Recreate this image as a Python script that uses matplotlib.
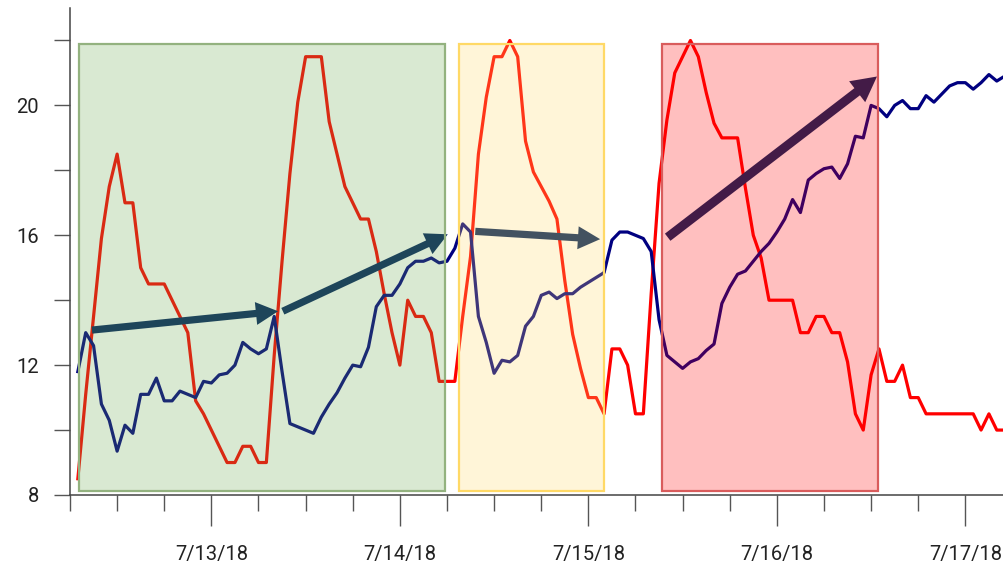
import matplotlib
matplotlib.use("Agg")
import matplotlib.pyplot as plt
import matplotlib.dates as mdates
from matplotlib.patches import Rectangle
from matplotlib.ticker import MultipleLocator, FuncFormatter
import pandas as pd

plt.rcParams["font.family"] = ["Roboto", "DejaVu Sans"]

# hourly readings, 7/12/18 07:00 onwards
start = "2018-07-12 07:00"
red_vals = [
    8.5, 11.1, 13.5, 15.9, 17.5, 18.5, 17.0, 17.0, 15.0, 14.5,
    14.5, 14.5, 14.0, 13.5, 13.0, 10.9, 10.5, 10.0, 9.5, 9.0,
    9.0, 9.5, 9.5, 9.0, 9.0, 12.3, 15.2, 17.9, 20.1, 21.5,
    21.5, 21.5, 19.5, 18.5, 17.5, 17.0, 16.5, 16.5, 15.5, 14.2,
    13.0, 12.0, 14.0, 13.5, 13.5, 13.0, 11.5, 11.5, 11.5, 13.5,
    15.35, 18.5, 20.25, 21.5, 21.5, 22.0, 21.5, 18.9, 17.95, 17.5,
    17.05, 16.5, 14.6, 12.95, 11.9, 11.0, 11.0, 10.5, 12.5, 12.5,
    12.0, 10.5, 10.5, 14.2, 17.6, 19.55, 21.0, 21.5, 22.0, 21.5,
    20.4, 19.45, 19.0, 19.0, 19.0, 17.45, 16.0, 15.3, 14.0, 14.0,
    14.0, 14.0, 13.0, 13.0, 13.5, 13.5, 13.0, 13.0, 12.1, 10.5,
    10.0, 11.7, 12.5, 11.5, 11.5, 12.0, 11.0, 11.0, 10.5, 10.5,
    10.5, 10.5, 10.5, 10.5, 10.5, 10.0, 10.5, 10.0, 10.0,
]
navy_vals = [
    11.8, 13.0, 12.6, 10.8, 10.3, 9.35, 10.15, 9.9, 11.1, 11.1,
    11.6, 10.9, 10.9, 11.2, 11.1, 11.0, 11.5, 11.45, 11.7, 11.75,
    12.0, 12.7, 12.5, 12.35, 12.5, 13.5, 11.8, 10.2, 10.1, 10.0,
    9.9, 10.4, 10.8, 11.15, 11.6, 12.0, 11.95, 12.55, 13.8, 14.15,
    14.15, 14.5, 15.0, 15.2, 15.2, 15.3, 15.15, 15.2, 15.6, 16.35,
    16.1, 13.5, 12.7, 11.75, 12.15, 12.1, 12.3, 13.2, 13.5, 14.15,
    14.25, 14.05, 14.2, 14.2, 14.4, 14.55, 14.7, 14.85, 15.85, 16.1,
    16.1, 16.0, 15.9, 15.5, 13.4, 12.3, 12.1, 11.9, 12.1, 12.2,
    12.45, 12.65, 13.9, 14.4, 14.8, 14.9, 15.2, 15.5, 15.75, 16.1,
    16.5, 17.1, 16.7, 17.7, 17.9, 18.05, 18.1, 17.75, 18.2, 19.05,
    19.0, 20.0, 19.9, 19.65, 20.0, 20.15, 19.9, 19.9, 20.3, 20.1,
    20.35, 20.6, 20.7, 20.7, 20.5, 20.7, 20.95, 20.75, 20.9,
]
times = pd.date_range(start, periods=len(red_vals), freq="h")

# highlighted periods: (from, to, colour) in hours after 7/12 06:00
t0 = pd.Timestamp("2018-07-12 06:00")
boxes = [(1.15, 47.75, "#6aa84f", "#93b27f"),
         (49.5, 68.0, "#ffd966", "#ffd966"),
         (75.4, 102.9, "#ff0000", "#d95c5c")]
box_low, box_high = 8.12, 21.9

# trend arrows: (hour, value) -> (hour, value)
arrows = [((2.8, 13.08), (26.5, 13.66)),
          ((27.1, 13.66), (48.1, 16.03)),
          ((51.6, 16.12), (67.5, 15.88)),
          ((76.1, 15.94), (102.75, 20.89))]


def at(h):
    return mdates.date2num(t0 + pd.Timedelta(hours=h))


fig = plt.figure(figsize=(10.04, 5.66), dpi=100)
ax = fig.add_axes([70 / 1004, 71 / 566, 934 / 1004, 487 / 566])

ax.plot(times, red_vals, color="#ff0000", lw=2.3, zorder=2)
ax.plot(times, navy_vals, color="#000080", lw=2.3, zorder=2)

for i, ((h1, v1), (h2, v2)) in enumerate(arrows):
    if i == 3:
        style = "simple,tail_width=6.5,head_width=19,head_length=18"
    else:
        style = "simple,tail_width=5.2,head_width=16.5,head_length=16"
    ax.annotate("", xy=(at(h2), v2), xytext=(at(h1), v1),
                arrowprops=dict(arrowstyle=style, lw=0, color="#05255f",
                                shrinkA=0, shrinkB=0, mutation_scale=1),
                zorder=2.5)

for h1, h2, fc, ec in boxes:
    x1, x2 = at(h1), at(h2)
    ax.add_patch(Rectangle((x1, box_low), x2 - x1, box_high - box_low,
                           facecolor=fc, alpha=0.25, edgecolor="none", zorder=3))
    ax.add_patch(Rectangle((x1, box_low), x2 - x1, box_high - box_low,
                           facecolor="none", edgecolor=ec, lw=1.6, zorder=4))

ax.set_xlim(at(0), at(934 / 7.854))
ax.set_ylim(8, 23)

ax.xaxis.set_major_locator(mdates.DayLocator())
ax.xaxis.set_minor_locator(mdates.HourLocator(byhour=[0, 6, 12, 18]))
ax.xaxis.set_major_formatter(FuncFormatter(
    lambda x, pos: (lambda d: f"{d.month}/{d.day}/{d:%y}")(mdates.num2date(x))))
ax.yaxis.set_major_locator(MultipleLocator(4))
ax.yaxis.set_minor_locator(MultipleLocator(2))

for s in ("top", "right"):
    ax.spines[s].set_visible(False)
for s in ("left", "bottom"):
    ax.spines[s].set_color("#444444")
    ax.spines[s].set_linewidth(1.1)

ax.tick_params(axis="x", which="major", length=22, width=1, color="#555555",
               pad=14, labelsize=14.5, labelcolor="#222222")
ax.tick_params(axis="x", which="minor", length=11.5, width=1, color="#555555")
ax.tick_params(axis="y", which="both", length=11.5, width=1, color="#555555",
               pad=11, labelsize=14.5, labelcolor="#222222")

fig.savefig("out.png", dpi=100)
